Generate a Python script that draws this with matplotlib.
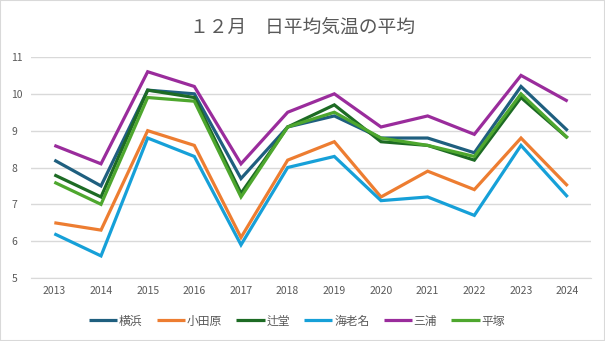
import numpy as np
import matplotlib
matplotlib.use('Agg')
from matplotlib import pyplot as plt

plt.rcParams['font.family'] = ['Noto Sans CJK JP', 'DejaVu Sans']

years = ['2013', '2014', '2015', '2016', '2017', '2018',
         '2019', '2020', '2021', '2022', '2023', '2024']
yokohama = [8.2, 7.5, 10.1, 10.0, 7.7, 9.1, 9.4, 8.8, 8.8, 8.4, 10.2, 9.0]
odawara = [6.5, 6.3, 9.0, 8.6, 6.1, 8.2, 8.7, 7.2, 7.9, 7.4, 8.8, 7.5]
tsujido = [7.8, 7.2, 10.1, 9.9, 7.3, 9.1, 9.7, 8.7, 8.6, 8.2, 9.9, 8.8]
ebina = [6.2, 5.6, 8.8, 8.3, 5.9, 8.0, 8.3, 7.1, 7.2, 6.7, 8.6, 7.2]
miura = [8.6, 8.1, 10.6, 10.2, 8.1, 9.5, 10.0, 9.1, 9.4, 8.9, 10.5, 9.8]
hiratsuka = [7.6, 7.0, 9.9, 9.8, 7.2, 9.1, 9.5, 8.8, 8.6, 8.3, 10.0, 8.8]

series = [
    ('横浜', yokohama, '#1f5f7f'),
    ('小田原', odawara, '#ed7d31'),
    ('辻堂', tsujido, '#1d6b24'),
    ('海老名', ebina, '#16a0d8'),
    ('三浦', miura, '#9a2c9c'),
    ('平塚', hiratsuka, '#4ea72e'),
]

text_color = '#595959'

fig = plt.figure(figsize=(6.05, 3.41), dpi=100)
ax = fig.add_axes([31 / 605, 1 - 278 / 341, 560 / 605, 221 / 341])

x = np.arange(len(years))
for name, values, color in series:
    ax.plot(x, values, color=color, lw=2.3, label=name,
            solid_joinstyle='miter', solid_capstyle='butt')

ax.set_xlim(-0.5, len(years) - 0.5)
ax.set_ylim(5, 11)
ax.set_yticks(range(5, 12))
ax.set_xticks(x)
ax.set_xticklabels(years)
ax.grid(axis='y', color='#d9d9d9', lw=1)
ax.set_axisbelow(True)
for side in ['left', 'right', 'top']:
    ax.spines[side].set_visible(False)
ax.spines['bottom'].set_color('#d9d9d9')
ax.tick_params(length=0, labelsize=7.5, colors=text_color, pad=6)
ax.tick_params(axis='y', pad=14)
for lbl in ax.get_yticklabels():
    lbl.set_horizontalalignment('left')

fig.text(0.5, 1 - 27 / 341, '１２月　日平均気温の平均', ha='center', va='center',
         fontsize=13.5, color=text_color)

fig.legend(loc='center', bbox_to_anchor=(297 / 605, 1 - 321 / 341), ncol=6,
           frameon=False, fontsize=8.5, labelcolor=text_color,
           handlelength=2.4, handletextpad=0.15, columnspacing=1.2)

border = plt.Rectangle((0, 0), 1, 1, transform=fig.transFigure, fill=False,
                       edgecolor='#d9d9d9', lw=1.5)
fig.patches.append(border)

fig.savefig('out.png', dpi=100)
